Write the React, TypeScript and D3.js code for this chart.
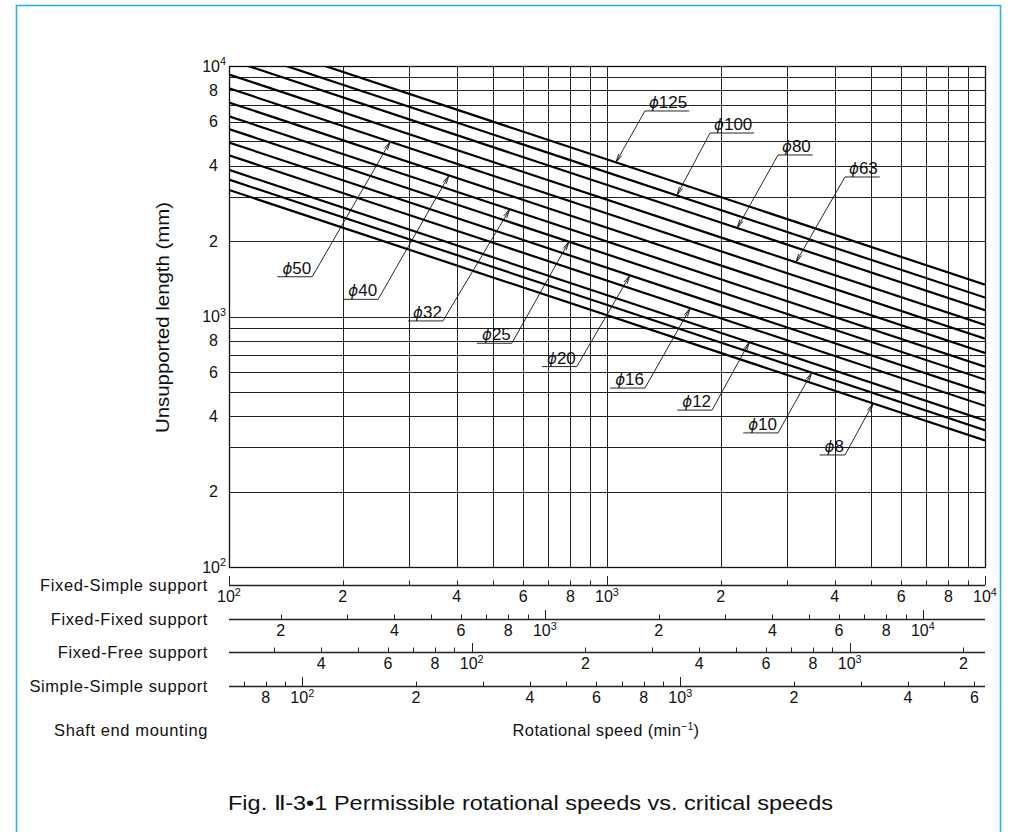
import * as d3 from "d3";

// ball screw shaft diameters (mm) and unsupported length read at the chart edges
const diameters = [8, 10, 12, 16, 20, 25, 32, 40, 50, 63, 80, 100, 125];
const lengthAt100rpm = [3200, 3520, 3850, 4400, 4950, 5600, 6300, 7150, 8150, 9250, 10600, 11900, 13400];
const lengthAt10000rpm = [320, 352, 385, 440, 495, 560, 630, 715, 815, 925, 1060, 1190, 1340];

// leader annotations: speed where the arrow touches the line, and the elbow of the leader
const arrowRpm = [5060, 3480, 2380, 1660, 1150, 793, 553, 382, 267, 3160, 2210, 1530, 1056];
const elbowRpm = [4262, 2834, 1896, 1260, 832, 560, 368, 248, 166, 4262, 2834, 1873, 1260];
const elbowLength = [280, 343, 423, 518, 631, 782, 960, 1171, 1441, 3605, 4413, 5401, 6613];

// secondary speed scales: name and the speed at the left end of the scale
const supportNames = ["Fixed-Simple support", "Fixed-Fixed support", "Fixed-Free support", "Simple-Simple support"];
const supportStartRpm = [100, 146, 22.8, 64];

const lengthDomain = [100, 10000];
const speedDomain = [100, 10000];

const font = "'Liberation Sans', Arial, Helvetica, sans-serif";

function multiples(lo: number, hi: number) {
  const out: number[] = [];
  for (let n = Math.floor(Math.log10(lo)); n <= Math.ceil(Math.log10(hi)); n++) {
    for (let k = 1; k <= 9; k++) {
      const v = k * Math.pow(10, n);
      if (v >= lo * 0.9999 && v <= hi * 1.0001) out.push(v);
    }
  }
  return out;
}

function isDecade(v: number) {
  const l = Math.log10(v);
  return Math.abs(l - Math.round(l)) < 1e-9;
}

function leading(v: number) {
  return Math.round(v / Math.pow(10, Math.floor(Math.log10(v) + 1e-9)));
}

function Pow({ v, size }: { v: number; size: number }) {
  return (
    <>
      10
      <tspan dy={-size * 0.4} fontSize={size * 0.68}>
        {Math.round(Math.log10(v))}
      </tspan>
    </>
  );
}

export default function App() {
  const W = 1016;
  const H = 832;
  const left = 229;
  const right = 985;
  const top = 66;
  const bottom = 567;

  const x = d3.scaleLog().domain(speedDomain).range([left, right]);
  const y = d3.scaleLog().domain(lengthDomain).range([bottom, top]);
  const px = (v: number) => Math.round(v) + 0.5;

  const gridX = multiples(speedDomain[0], speedDomain[1]);
  const gridY = multiples(lengthDomain[0], lengthDomain[1]);
  const yLabels = gridY.filter((v) => isDecade(v) || leading(v) % 2 === 0);

  const line = d3
    .line<[number, number]>()
    .x((d) => x(d[0]))
    .y((d) => y(d[1]));

  // length on a diameter line at any speed (straight segment in log space)
  const lineLength = (i: number, rpm: number) => {
    const t = (Math.log10(rpm) - 2) / 2;
    return Math.pow(10, Math.log10(lengthAt100rpm[i]) * (1 - t) + Math.log10(lengthAt10000rpm[i]) * t);
  };

  const axisY = [585, 619, 652, 686];

  return (
    <svg
      width={W}
      height={H}
      viewBox={`0 0 ${W} ${H}`}
      style={{ position: "absolute", left: 0, top: 0, background: "#fff" }}
      fontFamily={font}
    >
      <defs>
        <clipPath id="plot">
          <rect x={left} y={top} width={right - left} height={bottom - top} />
        </clipPath>
      </defs>
      <rect x={16.5} y={5.5} width={984} height={900} fill="none" stroke="#2bb3e6" strokeWidth={1.6} />

      {/* grid */}
      <g stroke="#222" strokeWidth={1}>
        {gridX.map((v) => (
          <line key={"gx" + v} x1={px(x(v))} x2={px(x(v))} y1={top} y2={bottom} />
        ))}
        {gridY.map((v) => (
          <line key={"gy" + v} x1={left} x2={right} y1={px(y(v))} y2={px(y(v))} />
        ))}
      </g>
      <rect x={left + 0.5} y={top + 0.5} width={right - left} height={bottom - top} fill="none" stroke="#111" strokeWidth={1.3} />

      {/* y tick labels */}
      <g fontSize={16} fill="#111">
        {yLabels.map((v) =>
          isDecade(v) ? (
            <text key={"yl" + v} x={226} y={y(v)} dy="0.35em" textAnchor="end">
              <Pow v={v} size={16} />
            </text>
          ) : (
            <text key={"yl" + v} x={218} y={y(v)} dy="0.35em" textAnchor="end">
              {leading(v)}
            </text>
          )
        )}
      </g>
      <text
        transform={`translate(169,${(top + bottom) / 2 + 1}) rotate(-90)`}
        textAnchor="middle"
        fontSize={18}
        fill="#111"
        textLength={231}
        lengthAdjust="spacingAndGlyphs"
      >
        Unsupported length (mm)
      </text>

      {/* diameter lines */}
      <g clipPath="url(#plot)" stroke="#000" strokeWidth={2.2} fill="none">
        {diameters.map((d, i) => (
          <path
            key={"d" + d}
            d={line([
              [speedDomain[0], lengthAt100rpm[i]],
              [speedDomain[1], lengthAt10000rpm[i]],
            ]) as string}
          />
        ))}
      </g>

      {/* leaders */}
      <g>
        {diameters.map((d, i) => {
          const tx = x(arrowRpm[i]);
          const ty = y(lineLength(i, arrowRpm[i]));
          const ex = x(elbowRpm[i]);
          const ey = y(elbowLength[i]);
          const a = Math.atan2(ty - ey, tx - ex);
          const hl = 9;
          const hw = 0.2;
          const toLeft = ex < tx;
          const label = String(d);
          const tw = 10 + label.length * 9.4;
          const ux = toLeft ? ex - tw - 6 : ex + tw + 6;
          const textX = toLeft ? ex - tw - 1 : ex + 4;
          return (
            <g key={"lab" + d}>
              <g stroke="#111" strokeWidth={0.9} fill="none">
                <line x1={ex} y1={ey} x2={tx} y2={ty} />
                <line x1={ex} y1={ey} x2={ux} y2={ey} />
                <path
                  d={`M${tx - hl * Math.cos(a - hw)},${ty - hl * Math.sin(a - hw)}L${tx},${ty}L${
                    tx - hl * Math.cos(a + hw)
                  },${ty - hl * Math.sin(a + hw)}`}
                />
              </g>
              <text x={textX} y={ey - 3} fontSize={17} fill="#111">
                <tspan fontStyle="italic" fontFamily="'DejaVu Sans', sans-serif" fontSize={15}>
                  ϕ
                </tspan>
                {label}
              </text>
            </g>
          );
        })}
      </g>

      {/* speed scales */}
      {supportNames.map((name, j) => {
        const s = d3
          .scaleLog()
          .domain([supportStartRpm[j], supportStartRpm[j] * 100])
          .range([left, right]);
        const ay = axisY[j];
        const ticks = multiples(s.domain()[0], s.domain()[1]);
        return (
          <g key={name}>
            <text x={208} y={ay} dy="0.35em" textAnchor="end" fontSize={16.5} letterSpacing={0.6} fill="#111">
              {name}
            </text>
            <line x1={left} x2={right} y1={ay + 0.5} y2={ay + 0.5} stroke="#222" strokeWidth={1.3} />
            {ticks.map((v) => (
              <line
                key={"t" + v}
                x1={px(s(v))}
                x2={px(s(v))}
                y1={ay}
                y2={ay - (isDecade(v) ? 9 : 4.5)}
                stroke="#222"
                strokeWidth={1}
              />
            ))}
            {ticks
              .filter((v) => isDecade(v) || leading(v) % 2 === 0)
              .map((v) => (
                <text key={"l" + v} x={s(v)} y={ay + 17} textAnchor="middle" fontSize={16} fill="#111">
                  {isDecade(v) ? <Pow v={v} size={16} /> : leading(v)}
                </text>
              ))}
          </g>
        );
      })}

      <text x={208} y={736} textAnchor="end" fontSize={16.5} letterSpacing={0.6} fill="#111">
        Shaft end mounting
      </text>
      <text x={606} y={736} textAnchor="middle" fontSize={16.5} letterSpacing={0.4} fill="#111">
        Rotational speed (min
        <tspan dy={-6} fontSize={10}>
          −1
        </tspan>
        <tspan dy={6}>)</tspan>
      </text>

      <text x={228} y={810} fontSize={20.5} fill="#111" textLength={605} lengthAdjust="spacingAndGlyphs">
        Fig. Ⅱ-3•1  Permissible rotational speeds vs. critical speeds
      </text>
    </svg>
  );
}
